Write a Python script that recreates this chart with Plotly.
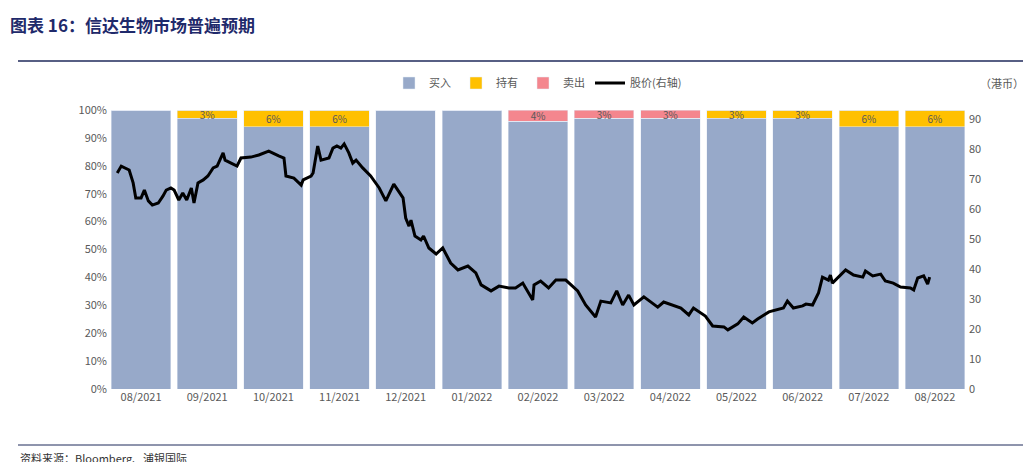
import plotly.graph_objects as go

months = ["08/2021","09/2021","10/2021","11/2021","12/2021","01/2022","02/2022",
          "03/2022","04/2022","05/2022","06/2022","07/2022","08/2022"]
buy  = [100, 97, 94, 94, 100, 100, 96, 97, 97, 97, 97, 94, 94]
hold = [0, 3, 6, 6, 0, 0, 0, 0, 0, 3, 3, 6, 6]
sell = [0, 0, 0, 0, 0, 0, 4, 3, 3, 0, 0, 0, 0]

# stock price: position in month-index units, price in HKD
price_t = [-0.36,-0.30,-0.18,-0.12,-0.08,0.00,0.05,0.11,0.17,0.26,0.33,0.38,0.45,0.50,0.57,0.63,0.69,0.76,0.80,0.86,
           0.94,1.01,1.09,1.15,1.24,1.27,1.36,1.45,1.51,1.66,1.78,1.93,2.08,2.16,2.19,2.31,2.42,2.45,2.57,2.60,
           2.67,2.72,2.84,2.90,2.96,3.02,3.07,3.14,3.20,3.25,3.35,3.47,3.60,3.70,3.82,3.96,4.00,4.05,4.08,4.14,
           4.23,4.27,4.35,4.46,4.56,4.68,4.79,4.94,5.06,5.14,5.29,5.41,5.56,5.66,5.77,5.92,5.94,6.04,6.16,6.27,
           6.42,6.60,6.72,6.87,6.95,7.10,7.19,7.28,7.37,7.45,7.60,7.81,7.90,8.16,8.28,8.35,8.53,8.64,8.81,8.87,
           9.02,9.11,9.24,9.32,9.49,9.71,9.77,9.86,10.00,10.05,10.15,10.24,10.30,10.39,10.42,10.45,10.65,10.77,10.91,10.95,
           11.06,11.18,11.25,11.37,11.48,11.63,11.68,11.74,11.83,11.89,11.92]
price = [72.0,74.3,73.0,68.7,63.7,63.7,66.3,62.7,61.3,62.0,64.3,66.3,67.0,66.3,63.0,65.3,63.0,67.0,62.0,68.7,
         69.7,71.0,73.7,74.3,78.7,76.3,75.3,74.3,77.0,77.3,78.0,79.3,77.7,77.0,71.0,70.3,68.0,69.7,71.0,72.0,
         81.0,76.3,77.0,80.3,81.0,80.3,81.7,78.7,75.3,76.3,73.7,71.0,67.0,62.7,68.3,63.7,57.0,54.3,56.3,51.0,
         49.7,51.0,47.0,45.0,47.0,42.0,39.7,41.0,38.7,34.7,32.7,34.3,33.7,33.7,35.3,29.7,34.7,36.0,33.7,36.3,
         36.3,32.7,28.0,24.0,29.3,28.7,32.7,28.0,31.3,28.0,30.7,27.3,29.0,27.0,24.7,27.0,24.3,21.0,20.7,19.7,
         21.7,24.0,22.0,23.3,25.7,27.0,29.3,27.0,27.7,28.3,28.0,32.0,37.3,36.3,38.0,35.3,39.7,38.0,37.3,39.3,
         37.7,38.3,36.0,35.3,34.0,33.7,33.0,37.0,37.7,35.0,37.3]

idx = list(range(len(months)))
def lbl(v):
    return [f"{x}%" if x else "" for x in v]

fig = go.Figure()
fig.add_bar(x=idx, y=buy, name="买入", marker_color="#97A9C9")
fig.add_bar(x=idx, y=hold, name="持有", marker_color="#FFC000", text=lbl(hold),
            textposition="inside", insidetextanchor="middle", textangle=0, constraintext="none",
            textfont=dict(size=10, color="#595959"))
fig.add_bar(x=idx, y=sell, name="卖出", marker_color="#F4868E", text=lbl(sell),
            textposition="inside", insidetextanchor="middle", textangle=0, constraintext="none",
            textfont=dict(size=10, color="#595959"))
fig.add_scatter(x=price_t, y=price, name="股价(右轴)", mode="lines", yaxis="y2",
                line=dict(color="black", width=3))

tickfont = dict(family="Noto Sans CJK SC", size=11, color="#595959")
fig.update_layout(
    width=1031, height=462, barmode="stack", bargap=0.1,
    paper_bgcolor="white", plot_bgcolor="white",
    margin=dict(l=100, r=71, t=102, b=81, autoexpand=False),
    font=dict(family="Noto Sans CJK SC", color="#595959"),
    xaxis=dict(range=[-0.5, 12.5], tickvals=idx, ticktext=months, tickfont=tickfont,
               showgrid=False, zeroline=False, showline=False),
    yaxis=dict(range=[0, 100], tickvals=list(range(0, 101, 10)),
               ticktext=[f"{v}%" for v in range(0, 101, 10)], tickfont=tickfont,
               showgrid=False, zeroline=False),
    yaxis2=dict(range=[0, 93], tickvals=list(range(0, 91, 10)), overlaying="y", side="right",
                tickfont=tickfont, showgrid=False, zeroline=False),
    legend=dict(orientation="h", x=0.5, xanchor="center", y=(462-75)/462, yanchor="middle",
                yref="container", font=dict(size=11, color="#595959"),
                traceorder="normal", itemwidth=30),
    uniformtext=dict(minsize=8, mode="show"),
)
fig.add_annotation(text="<b>图表 16：信达生物市场普遍预期</b>", xref="paper", yref="paper",
                   x=-100/860, y=(462-81-17)/279, xanchor="left", yanchor="middle", showarrow=False,
                   font=dict(size=17, color="#1F2A6B", family="Noto Sans CJK SC"))
fig.add_annotation(text="（港币）", xref="paper", yref="paper", x=1.04, y=(462-81-75)/279,
                   xanchor="center", yanchor="middle", showarrow=False, font=dict(size=11, color="#595959"))
fig.add_annotation(text="资料来源：Bloomberg、浦银国际", xref="paper", yref="paper",
                   x=-90/860, y=(462-81-450)/279, xanchor="left", yanchor="middle", showarrow=False,
                   font=dict(size=11, color="#333333"))
fig.add_shape(type="line", xref="paper", yref="paper", x0=-90/860, x1=(1031-100)/860,
              y0=(462-81-53)/279, y1=(462-81-53)/279, line=dict(color="#1F2A5B", width=1.5))
fig.add_shape(type="line", xref="paper", yref="paper", x0=-90/860, x1=(1031-100)/860,
              y0=(462-81-437)/279, y1=(462-81-437)/279, line=dict(color="#1F2A5B", width=1))
fig.write_html("out.html")
